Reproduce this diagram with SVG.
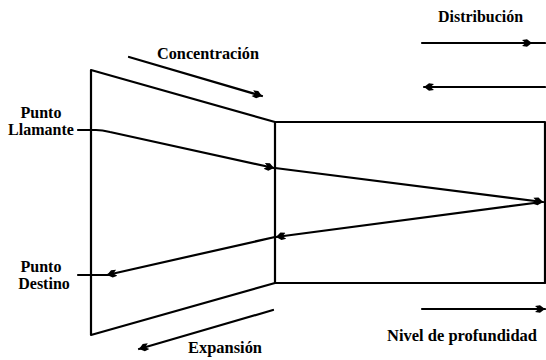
<svg xmlns="http://www.w3.org/2000/svg" width="546" height="360" viewBox="0 0 546 360">
<style>
.ln{fill:none;stroke:#000;stroke-width:2.2;stroke-linejoin:round;stroke-linecap:round}
.t{font-family:"Liberation Serif","Times New Roman",serif;font-weight:bold;font-size:17px;fill:#000}
.s{font-size:16px}
</style>
<defs>
<marker id="ah" markerUnits="userSpaceOnUse" markerWidth="14" markerHeight="12" refX="10" refY="5" orient="auto">
<path d="M0,2 L5,1.2 L10,5 L5,8.8 L0,8 L3.5,5 Z" fill="#000"/>
</marker>
</defs>
<rect width="546" height="360" fill="#fff"/>
<g id="concentrador">
<path class="ln" d="M91,70 L275,122 L275,283 L91,335 Z"/>
</g>
<g id="red">
<path class="ln" d="M275,122 L545,122 L545,283 L275,283"/>
</g>
<g id="connectors">
<path class="ln" d="M78,130 L96,130 Q102,130 110,132 L274,168" marker-end="url(#ah)"/>
<path class="ln" d="M275,168 L543,202" marker-end="url(#ah)"/>
<path class="ln" d="M542,202 L276,237" marker-end="url(#ah)"/>
<path class="ln" d="M275,237 L107,275" marker-end="url(#ah)"/>
<path class="ln" d="M108,275 L78,275"/>
<path class="ln" d="M129,57 L262,96" marker-end="url(#ah)"/>
<path class="ln" d="M273,310 L139,349" marker-end="url(#ah)"/>
<path class="ln" d="M422,43 L532,43" marker-end="url(#ah)"/>
<path class="ln" d="M531,43 L545,43"/>
<path class="ln" d="M545,87 L424,87" marker-end="url(#ah)"/>
<path class="ln" d="M422,309 L545,309" marker-end="url(#ah)"/>
</g>
<g id="lbl-concentracion"><text class="t" x="157" y="59" textLength="102" lengthAdjust="spacingAndGlyphs">Concentración</text></g>
<g id="lbl-distribucion"><text class="t" x="438" y="22" textLength="85" lengthAdjust="spacingAndGlyphs">Distribución</text></g>
<g id="lbl-llamante"><text class="t s" x="41" y="118" text-anchor="middle">Punto</text><text class="t s" x="41" y="135" text-anchor="middle">Llamante</text></g>
<g id="lbl-destino"><text class="t s" x="41" y="272" text-anchor="middle">Punto</text><text class="t s" x="44" y="289" text-anchor="middle">Destino</text></g>
<g id="lbl-expansion"><text class="t" x="188" y="353" textLength="74" lengthAdjust="spacingAndGlyphs">Expansión</text></g>
<g id="lbl-nivel"><text class="t" x="387" y="341" textLength="150" lengthAdjust="spacingAndGlyphs">Nivel de profundidad</text></g>
</svg>
